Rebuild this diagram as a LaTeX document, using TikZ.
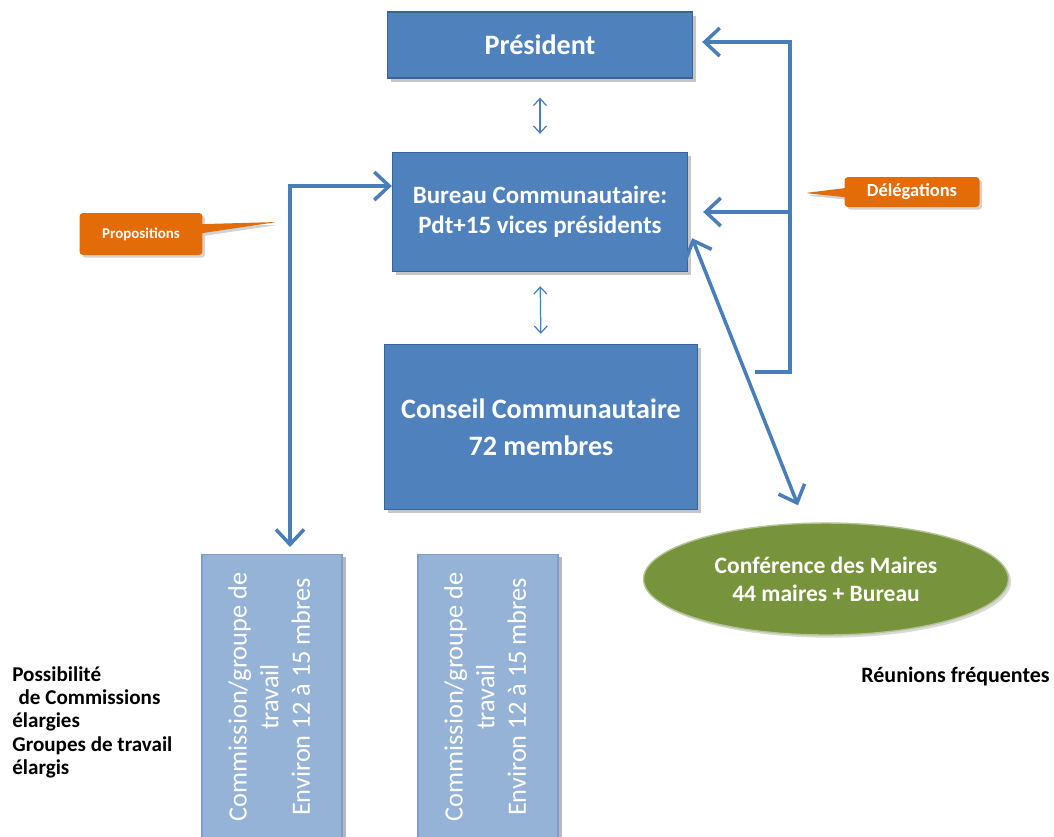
\documentclass[tikz,border=0pt]{standalone}
\usepackage{fontspec}
\setmainfont{Carlito}
\usepackage{graphicx}
\usepackage{xcolor}
\usetikzlibrary{arrows.meta,positioning,calc,shadows,shapes.geometric,shapes.callouts}

\definecolor{boxblue}{HTML}{4F81BD}
\definecolor{boxedge}{HTML}{3A6496}
\definecolor{lightblue}{HTML}{95B3D7}
\definecolor{lightedge}{HTML}{7F9FC8}
\definecolor{linkblue}{HTML}{4A7EBB}
\definecolor{maireolive}{HTML}{77933C}
\definecolor{calloutorange}{HTML}{E36C09}

\begin{document}
\begin{tikzpicture}[x=0.02cm,y=-0.02cm,
    every node/.style={font=\bfseries},
    mainbox/.style={draw=boxedge,line width=.8pt,fill=boxblue,text=white,align=center,
      drop shadow={shadow xshift=2pt,shadow yshift=-2pt,opacity=.45}},
    combox/.style={draw=lightedge,line width=.6pt,fill=lightblue,text=white,
      minimum width=2.8cm,minimum height=5.7cm,
      drop shadow={shadow xshift=2.5pt,shadow yshift=-1.5pt,opacity=.55}},
    tagbox/.style={rectangle callout,rounded corners=2pt,fill=calloutorange,text=white,
      callout pointer width=.18cm,
      drop shadow={shadow xshift=1.5pt,shadow yshift=-1.5pt,opacity=.35}},
    link/.style={draw=linkblue,line width=2pt,>={Straight Barb[length=3mm,width=5.6mm]}},
    thinlink/.style={draw=linkblue,line width=.7pt,>={Straight Barb[length=1.4mm,width=2.6mm]}}]
  \useasboundingbox (0,0) rectangle (1054,836);

  \node[mainbox,minimum width=6.1cm,minimum height=1.32cm,font=\bfseries\fontsize{16}{18}\selectfont] (pres) at (540,45) {Président};
  \node[mainbox,minimum width=5.9cm,minimum height=2.38cm,font=\bfseries\fontsize{14.2}{17}\selectfont] (bureau) at (540,212) {Bureau Communautaire:\\Pdt+15 vices présidents};
  \node[mainbox,minimum width=6.26cm,minimum height=3.3cm,font=\bfseries\fontsize{16}{21}\selectfont] (conseil) at (541,427) {Conseil Communautaire\\72 membres};

  \node[combox,font=\fontsize{15}{18}\selectfont] (com1) at (272,697) {\rotatebox{90}{\begin{tabular}{@{}c@{}}Commission/groupe de\\travail\\Environ 12 à 15 mbres\end{tabular}}};
  \node[combox,font=\fontsize{15}{18}\selectfont] (com2) at (488,697) {\rotatebox{90}{\begin{tabular}{@{}c@{}}Commission/groupe de\\travail\\Environ 12 à 15 mbres\end{tabular}}};

  \node[ellipse,draw=maireolive!55!white,line width=.8pt,fill=maireolive,text=white,
    minimum width=7.3cm,minimum height=2.24cm,align=center,font=\bfseries\fontsize{13.4}{16}\selectfont,
    drop shadow={shadow xshift=1.5pt,shadow yshift=-1.5pt,opacity=.3}] (maires) at (826,579) {Conférence des Maires\\44 maires + Bureau};

  % bulles
  \coordinate (proptip) at (277,222);
  \coordinate (deltip) at (805,193);
  \node[tagbox,callout absolute pointer={(proptip)},minimum width=2.46cm,minimum height=.84cm,font=\bfseries\fontsize{8.5}{10}\selectfont] (prop) at (141,234) {Propositions};
  \node[tagbox,callout absolute pointer={(deltip)},minimum width=2.7cm,minimum height=.6cm,font=\bfseries\fontsize{10.5}{12}\selectfont] (deleg) at (912,192) {Délégations};

  \node[anchor=north west,align=left,inner sep=0pt,font=\bfseries\fontsize{12}{13.3}\selectfont] (possib) at (12,666)
    {Possibilité\\\hspace{.3em}de Commissions\\élargies\\Groupes de travail\\élargis};
  \node[anchor=west,inner sep=0pt,font=\bfseries\fontsize{12.5}{14}\selectfont] (reunions) at (861,677) {Réunions fréquentes};

  % liaisons
  \draw[thinlink,<->,shorten <=.38cm,shorten >=.36cm] (pres.south) -- (bureau.north);
  \draw[thinlink,<->,shorten <=.28cm,shorten >=.2cm] (bureau.south) -- (conseil.north);

  \coordinate (lcorner) at (290,186);
  \draw[link,<->] (lcorner -| bureau.west) -- (lcorner) -- ([yshift=.14cm]lcorner |- com1.north);

  \coordinate (rtop) at (790,42);
  \coordinate (rbot) at (755,372);
  \draw[link,->] (rbot) -- (rbot -| rtop) -- (rtop) -- ([xshift=.18cm]rtop -| pres.east);
  \draw[link,->] (rtop |- bureau.east) -- ([xshift=.3cm]bureau.east);

  \draw[link,<->] ([shift={(4,-34)}]bureau.south east) -- ([shift={(-28,-17)}]maires.north);
\end{tikzpicture}
\end{document}
